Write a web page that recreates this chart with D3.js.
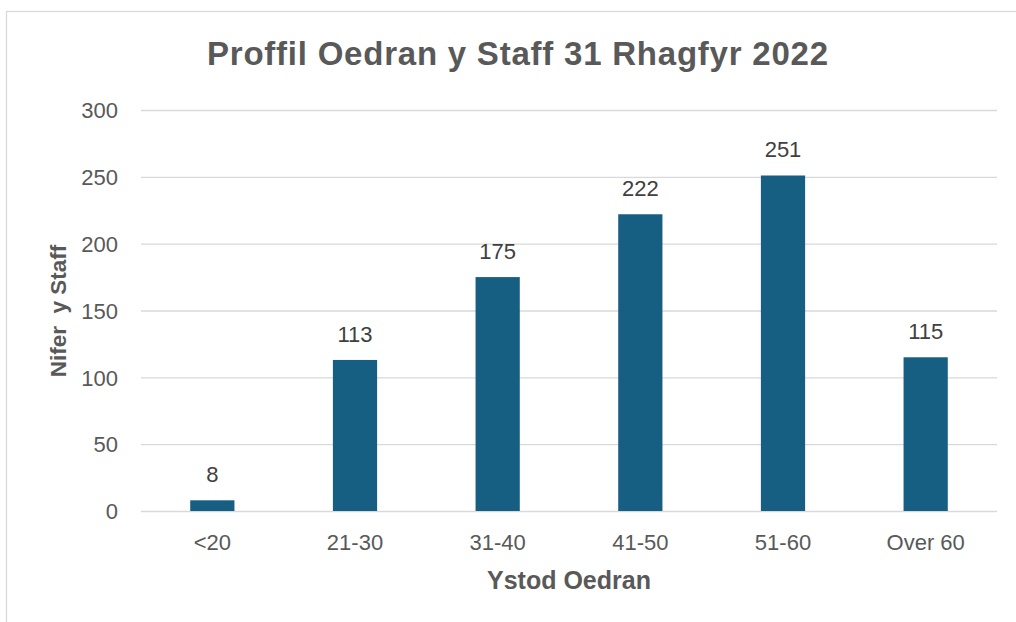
<!DOCTYPE html>
<html>
<head>
<meta charset="utf-8">
<script src="https://cdn.jsdelivr.net/npm/d3@7"></script>
<style>
  html, body { margin: 0; padding: 0; background: #fff; }
  svg { display: block; }
</style>
</head>
<body>
<div id="vis"></div>
<script>
// age bands and staff counts
var categories = ["<20", "21-30", "31-40", "41-50", "51-60", "Over 60"];
var counts = [8, 113, 175, 222, 251, 115];
var yTicks = [0, 50, 100, 150, 200, 250, 300];

const WIDTH = 1016;
const HEIGHT = 622;
const PLOT_LEFT = 141;
const PLOT_RIGHT = 997;
const PLOT_TOP = 110;
const PLOT_BOTTOM = 511;
const BAR_COLOR = "#175f82";
const GRID_COLOR = "#d9d9d9";
const TEXT_GRAY = "#595959";
const FONT = "'Liberation Sans', Arial, sans-serif";

var svg = d3.select("#vis")
    .append("svg")
    .attr("width", WIDTH)
    .attr("height", HEIGHT);

// chart frame (runs off the right / bottom edge)
svg.append("rect")
    .attr("x", 6.5)
    .attr("y", 11.5)
    .attr("width", 1030)
    .attr("height", 630)
    .attr("fill", "#fff")
    .attr("stroke", GRID_COLOR)
    .attr("stroke-width", 1.3);

var x = d3.scaleBand()
    .domain(categories)
    .range([PLOT_LEFT, PLOT_RIGHT])
    .paddingInner(0.69)
    .paddingOuter(0.345);

var y = d3.scaleLinear()
    .domain([0, 300])
    .range([PLOT_BOTTOM, PLOT_TOP]);

// gridlines + y tick labels
var yAxis = d3.axisLeft(y)
    .tickValues(yTicks)
    .tickSize(-(PLOT_RIGHT - PLOT_LEFT))
    .tickPadding(23);

var gy = svg.append("g")
    .attr("transform", "translate(" + PLOT_LEFT + ",0)")
    .call(yAxis);
gy.select(".domain").remove();
gy.selectAll(".tick line")
    .attr("stroke", GRID_COLOR)
    .attr("stroke-width", 1.3);
gy.selectAll(".tick text")
    .attr("fill", TEXT_GRAY)
    .attr("font-family", FONT)
    .attr("font-size", "22px")
    .attr("dy", "0.35em");

// x category labels
var xAxis = d3.axisBottom(x).tickSize(0).tickPadding(0);
var gx = svg.append("g")
    .attr("transform", "translate(0," + PLOT_BOTTOM + ")")
    .call(xAxis);
gx.select(".domain").remove();
gx.selectAll(".tick text")
    .attr("fill", TEXT_GRAY)
    .attr("font-family", FONT)
    .attr("font-size", "22px")
    .attr("y", 39)
    .attr("dy", 0);

// bars
svg.append("g")
    .selectAll("rect")
    .data(counts)
    .enter()
    .append("rect")
    .attr("x", function (d, i) { return x(categories[i]); })
    .attr("y", function (d) { return y(d); })
    .attr("width", x.bandwidth())
    .attr("height", function (d) { return y(0) - y(d); })
    .attr("fill", BAR_COLOR);

// value labels
svg.append("g")
    .selectAll("text")
    .data(counts)
    .enter()
    .append("text")
    .attr("x", function (d, i) { return x(categories[i]) + x.bandwidth() / 2; })
    .attr("y", function (d) { return y(d) - 18; })
    .attr("text-anchor", "middle")
    .attr("fill", "#404040")
    .attr("font-family", FONT)
    .attr("font-size", "22px")
    .text(function (d) { return d; });

// title
svg.append("text")
    .attr("x", 517.5)
    .attr("y", 65)
    .attr("text-anchor", "middle")
    .attr("fill", TEXT_GRAY)
    .attr("font-family", FONT)
    .attr("font-weight", "bold")
    .attr("font-size", "33px")
    .attr("textLength", 621)
    .attr("lengthAdjust", "spacing")
    .text("Proffil Oedran y Staff 31 Rhagfyr 2022");

// x axis title
svg.append("text")
    .attr("x", 569)
    .attr("y", 589)
    .attr("text-anchor", "middle")
    .attr("fill", TEXT_GRAY)
    .attr("font-family", FONT)
    .attr("font-weight", "bold")
    .attr("font-size", "25px")
    .text("Ystod Oedran");

// y axis title
svg.append("text")
    .attr("transform", "translate(66,311) rotate(-90)")
    .attr("text-anchor", "middle")
    .attr("fill", TEXT_GRAY)
    .attr("font-family", FONT)
    .attr("font-weight", "bold")
    .attr("font-size", "22.5px")
    .attr("xml:space", "preserve")
    .style("white-space", "pre")
    .text("Nifer  y Staff");
</script>
</body>
</html>
